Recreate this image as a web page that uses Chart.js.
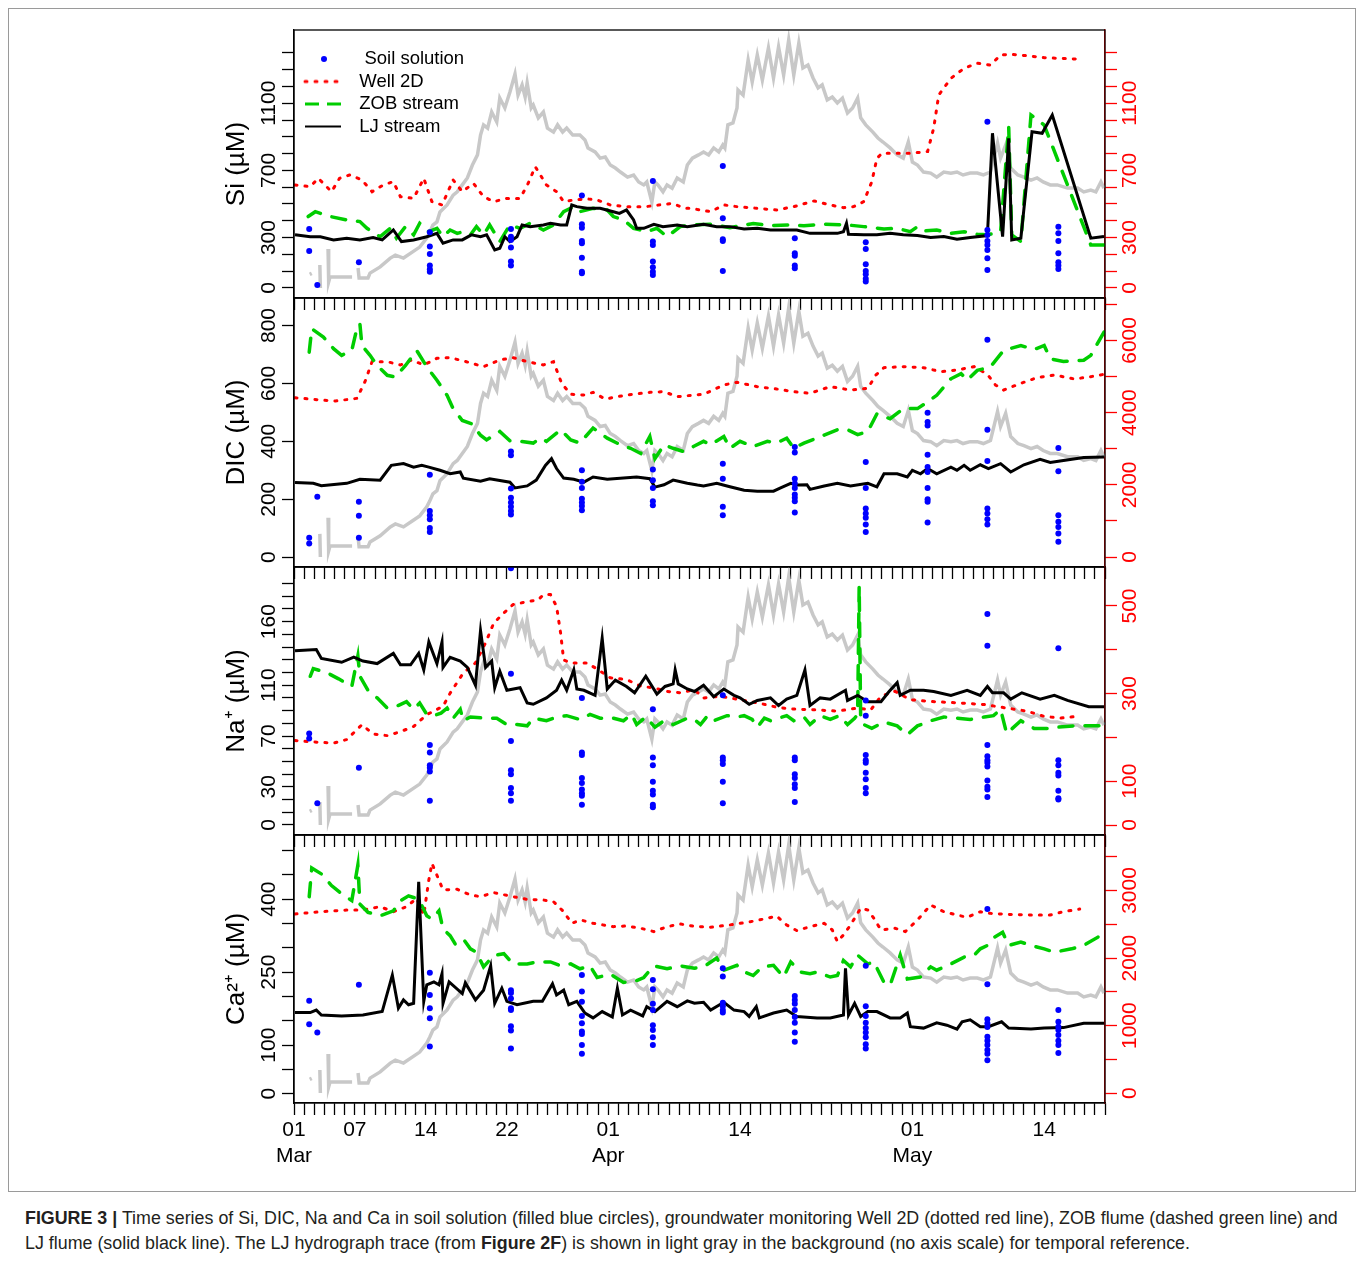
<!DOCTYPE html>
<html>
<head>
<meta charset="utf-8">
<script src="https://cdn.jsdelivr.net/npm/chart.js@4.4.1/dist/chart.umd.min.js"></script>
<style>
  body { margin: 0; background: #fff; width: 1358px; height: 1261px; position: relative; overflow: hidden; }
  #frame { position: absolute; left: 8px; top: 8px; width: 1346px; height: 1182px; border: 1px solid #9a9a9a; }
  canvas { position: absolute; left: 0; }
  #caption { position: absolute; left: 25px; top: 1206px; white-space: nowrap; color: #231f20;
             font-family: 'Liberation Sans Narrow', 'Liberation Sans', Arial, sans-serif; font-size: 17.85px; line-height: 25px; }
</style>
</head>
<body>
<div id="frame"></div>
<canvas id="c1" width="1358" height="302" style="top:10px"></canvas>
<canvas id="c2" width="1358" height="303" style="top:278px"></canvas>
<canvas id="c3" width="1358" height="302" style="top:547px"></canvas>
<canvas id="c4" width="1358" height="363" style="top:815px"></canvas>
<div id="caption"><b>FIGURE 3 |</b> Time series of Si, DIC, Na and Ca in soil solution (filled blue circles), groundwater monitoring Well 2D (dotted red line), ZOB flume (dashed green line) and<br>LJ flume (solid black line). The LJ hydrograph trace (from <b>Figure 2F</b>) is shown in light gray in the background (no axis scale) for temporal reference.</div>
<script>
// days counted from 01 Mar
const dayTicks = [0, 6, 13, 21, 31, 44, 61, 74]
const dayLabels = [['01', 'Mar'], '07', '14', '22', ['01', 'Apr'], '14', ['01', 'May'], '14']
const sampleDays = [1.5, 2.3, 6.4, 13.4, 21.4, 28.4, 35.4, 42.3, 49.4, 56.4, 62.5, 68.4, 75.4]

// LJ hydrograph, arbitrary units (no scale)
const hydro = [[1.55,8.8],[1.75,9.2],[1.8,null],[2.55,12.3],[2.6,3.7],[2.7,null],
  [3.36,18.3],[3.42,6.0],[3.55,7.8],[5.73,7.8],[5.9,null],
  [6.32,11.2],[6.42,7.5],[7.3,7.5],[7.5,9.3],[8.5,11.6],[9.5,14.9],[10.0,16.0],[10.8,14.9],[11.7,17.2],[12.4,19.0],
  [13.1,22.4],[13.4,24.6],[13.7,27.2],[14.1,28.4],[14.4,32.1],[15.1,34.7],[15.7,38.4],[16.1,39.6],[16.6,42.2],[17.1,44.8],
  [17.6,49.6],[18.1,53.4],[18.4,60.8],[18.7,64.6],[19.1,63.4],[19.5,69.4],[20.0,65.7],[20.3,74.6],[20.8,70.9],[21.3,76.9],
  [21.8,83.6],[22.1,75.7],[22.5,79.5],[22.8,75.0],[23.0,80.2],[23.4,70.9],[23.6,72.0],[24.1,67.2],[24.6,69.4],[25.0,63.4],
  [25.6,61.9],[26.0,64.6],[26.5,61.9],[26.9,63.4],[27.5,60.8],[28.2,60.8],[28.7,59.0],[29.0,56.0],[29.7,54.5],[30.2,52.2],
  [30.7,52.6],[31.2,49.6],[31.7,48.5],[32.2,47.0],[32.9,45.1],[33.5,45.9],[34.0,43.3],[34.5,42.2],[34.8,43.3],[35.3,35.8],
  [35.6,43.3],[35.9,42.2],[36.4,39.6],[36.8,42.2],[37.3,41.0],[37.8,44.8],[38.4,43.3],[38.8,49.6],[39.3,52.2],[39.9,53.4],
  [40.4,54.5],[40.9,53.4],[41.4,56.0],[41.9,54.5],[42.3,57.1],[42.5,56.0],[42.8,64.6],[43.3,65.3],[43.7,70.9],[43.8,77.6],
  [44.3,75.7],[44.8,88.8],[45.2,80.6],[45.7,90.7],[46.2,81.3],[46.8,93.3],[47.3,82.1],[47.8,93.7],[48.3,83.2],[48.8,96.3],
  [49.3,83.2],[49.8,95.1],[50.2,85.8],[50.7,86.9],[51.2,82.1],[51.7,78.4],[52.1,79.5],[52.6,73.9],[53.1,75.0],[53.6,72.8],
  [54.1,74.6],[54.6,69.0],[55.1,70.9],[55.6,74.6],[55.9,67.2],[56.4,64.6],[57.1,61.9],[57.6,59.7],[58.1,58.2],[58.8,56.0],
  [59.5,53.4],[60.1,52.2],[60.6,58.2],[61.0,50.7],[61.5,49.6],[62.1,47.0],[62.8,46.6],[63.4,45.1],[64.1,47.0],[64.8,46.6],
  [65.4,47.0],[66.0,45.9],[66.7,46.6],[67.4,46.6],[68.0,45.9],[68.7,47.0],[69.4,57.8],[69.7,52.2],[70.2,57.1],[70.7,48.5],
  [71.4,45.9],[72.0,45.1],[72.7,44.0],[73.3,44.8],[73.9,43.3],[74.6,42.2],[75.3,42.2],[76.3,41.0],[77.3,41.0],[77.9,39.6],
  [78.6,40.3],[79.1,39.6],[79.6,43.3],[79.9,41.0]]

// Si (uM)
const siLJ = [[0.1,316],[1.6,305],[2.6,305],[3.9,286],[5.2,296],[6.5,286],[7.8,300],[8.7,286],[9.8,345],[10.6,276],[11.8,286],
  [13.1,305],[14.1,325],[14.7,266],[15.7,286],[16.6,286],[17.5,316],[18.4,305],[19.0,316],[19.8,226],[20.3,236],[20.8,305],
  [21.3,276],[22.0,305],[22.5,375],[23.3,365],[24.6,375],[25.3,385],[26.3,375],[26.9,375],[27.4,494],[27.9,484],[28.9,474],
  [30.2,474],[31.5,454],[32.1,444],[32.8,464],[33.5,405],[33.8,355],[34.5,355],[35.5,379],[36.4,365],[37.8,375],[38.8,365],
  [40.4,379],[41.7,365],[43.0,365],[44.4,351],[45.7,355],[47.0,345],[48.3,345],[49.6,345],[50.9,325],[52.3,325],[53.6,325],
  [54.2,335],[54.5,385],[54.7,319],[56.2,316],[57.5,316],[58.8,325],[60.1,316],[61.5,312],[62.8,300],[64.1,306],[65.4,290],
  [66.7,300],[68.4,312],[68.9,921],[69.9,306],[70.5,891],[70.8,286],[71.7,296],[72.8,930],[73.8,921],[74.8,1030],[78.6,296],[79.9,306]]
const siWell = [[0.1,613],[1.6,603],[2.4,653],[3.7,573],[4.5,653],[5.5,673],[6.7,643],[7.7,573],[8.8,613],[9.8,633],[10.5,543],
  [11.8,533],[12.8,653],[13.6,514],[14.6,494],[15.7,643],[16.6,573],[17.7,623],[18.7,543],[19.7,514],[21.0,533],[22.3,533],
  [23.1,623],[23.8,722],[24.3,673],[24.9,613],[25.9,573],[26.6,514],[27.6,524],[28.9,530],[29.9,524],[31.2,494],[32.8,484],
  [34.7,484],[36.0,494],[37.3,503],[38.6,474],[39.1,474],[41.1,454],[42.4,494],[43.7,484],[45.7,474],[47.6,464],[49.3,484],
  [51.3,518],[52.9,494],[54.2,478],[55.2,484],[56.2,514],[57.0,633],[57.5,772],[58.0,802],[59.5,802],[60.8,802],[62.5,812],
  [63.1,951],[63.6,1149],[64.8,1248],[66.1,1308],[67.4,1338],[68.7,1327],[69.7,1387],[70.7,1391],[72.3,1383],[74.0,1371],
  [75.6,1367],[77.3,1363]]
const siZOB = [[1.4,425],[2.1,454],[3.6,425],[5.2,405],[6.5,395],[7.2,355],[8.5,305],[9.5,355],[10.1,296],[11.0,365],[11.8,316],
  [12.4,385],[13.3,335],[14.1,355],[14.7,305],[15.4,345],[16.1,325],[16.7,335],[17.4,316],[18.0,365],[18.7,316],[19.3,375],
  [20.3,276],[21.3,375],[22.3,355],[23.3,385],[24.6,345],[25.6,375],[26.6,454],[27.6,484],[28.2,454],[29.5,474],[30.9,464],
  [31.5,425],[32.5,405],[33.5,355],[34.8,335],[35.8,355],[36.8,305],[38.1,365],[39.1,375],[41.1,379],[43.0,359],[45.3,383],
  [47.0,371],[49.0,375],[50.3,371],[52.3,379],[54.6,375],[56.2,365],[58.2,351],[59.5,355],[60.8,335],[61.5,365],[62.1,339],
  [63.4,345],[64.8,325],[66.1,335],[67.4,319],[68.4,316],[69.7,335],[70.5,960],[70.8,316],[71.7,276],[72.7,1030],[74.0,970],
  [78.6,256],[79.9,256]]
const siSoil = [[351,220],[18],[153],[331,246,202,133,111,97],[351,305,286,240,157,133],[550,379,359,280,266,180,97,87],
  [637,276,256,157,123,97,77],[726,415,290,280,101],[296,206,192,133,117],[272,232,141,101,82,54,38],[],
  [990,345,315,280,256,226,177,107],[365,325,280,206,153,133,113]]

// DIC (uM), Well 2D on right axis
const dicLJ = [[0.1,258],[1.9,255],[2.7,247],[5.2,255],[6.5,269],[8.5,266],[9.6,317],[10.8,323],[11.8,311],[12.6,317],[13.3,311],
  [14.4,300],[15.4,288],[16.4,294],[16.7,273],[18.4,262],[19.3,271],[21.3,259],[21.8,239],[23.0,246],[23.9,266],[24.8,317],
  [25.4,340],[25.9,306],[26.6,273],[27.6,269],[28.6,259],[29.5,277],[30.9,269],[32.5,273],[33.8,277],[35.1,271],[35.6,242],
  [36.5,250],[37.4,266],[38.8,255],[39.8,249],[40.4,246],[41.7,255],[43.0,243],[44.4,231],[45.7,228],[47.3,228],[48.0,239],
  [49.0,255],[49.6,249],[50.6,250],[50.9,234],[52.3,246],[53.6,255],[54.9,246],[56.6,255],[57.5,243],[58.2,288],[59.5,288],
  [60.5,277],[61.0,300],[61.8,288],[62.5,306],[63.4,288],[64.8,311],[65.4,300],[66.1,317],[66.7,300],[67.7,319],[68.5,306],
  [69.7,323],[70.7,294],[72.0,319],[73.6,338],[74.6,327],[75.9,334],[77.9,344],[79.9,346]]
const dicWell = [[0.1,4413],[2.6,4349],[4.1,4321],[6.2,4395],[7.0,4857],[7.7,5410],[9.2,5410],[10.5,5319],[11.6,5457],[12.8,5319],
  [14.1,5504],[15.4,5523],[17.0,5410],[18.7,5272],[20.3,5457],[21.6,5523],[23.0,5410],[24.6,5319],[25.6,5410],[26.4,4811],
  [27.3,4507],[28.6,4487],[29.5,4561],[30.7,4377],[32.8,4487],[35.1,4561],[36.5,4580],[37.8,4441],[39.5,4487],[40.4,4507],
  [42.4,4765],[43.7,4839],[45.7,4719],[47.6,4654],[49.3,4580],[50.9,4534],[52.9,4719],[54.9,4626],[56.6,4672],[57.4,5042],
  [58.2,5245],[60.1,5272],[62.1,5245],[63.8,5134],[65.4,5180],[67.1,5272],[68.4,5060],[69.2,4765],[70.0,4626],[71.7,4811],
  [73.3,4968],[75.0,5042],[77.0,4931],[78.6,4996],[79.9,5060]]
const dicZOB = [[1.5,708],[1.75,789],[2.9,760],[3.9,720],[4.7,697],[5.7,714],[6.2,789],[6.5,806],[6.7,731],[7.5,697],[8.2,662],
  [9.2,628],[10.0,622],[11.0,662],[12.1,714],[13.1,657],[14.1,611],[15.1,559],[15.7,513],[16.6,472],[17.5,461],[18.4,421],
  [19.0,405],[20.3,434],[21.3,402],[22.3,400],[23.6,394],[24.3,411],[24.9,400],[26.3,440],[27.3,405],[28.2,394],[29.5,446],
  [30.9,411],[32.2,388],[33.2,376],[34.2,358],[35.1,417],[35.6,340],[36.5,388],[37.4,376],[38.4,365],[39.4,382],[40.4,400],
  [41.1,388],[42.4,417],[43.0,376],[44.0,400],[45.3,382],[46.7,400],[47.6,394],[48.6,411],[49.3,376],[50.3,394],[52.0,417],
  [53.6,440],[54.6,440],[55.6,423],[56.6,434],[57.5,495],[58.8,478],[60.1,513],[61.5,513],[62.5,536],[63.4,559],[64.8,616],
  [65.8,634],[66.4,611],[67.4,645],[68.7,657],[70.0,714],[71.7,731],[73.0,717],[74.0,731],[74.6,685],[75.9,676],[77.9,680],
  [78.6,697],[79.9,777]]
const dicSoil = [[67,47],[209],[191,143,67],[285,159,145,131,101,87],[365,352,237,205,189,174,159,147],[300,260,239,202,189,177,162],
  [303,266,239,193,179],[323,271,174,145],[380,361,271,254,239,216,205,193,154],[329,239,168,151,136,113,87],
  [499,467,455,354,311,294,239,200,191,120],[751,440,332,168,151,131,113],[377,297,145,122,104,82,53]]

// Na+ (uM), Well 2D on right axis
const naLJ = [[0.1,137],[2.2,138],[2.7,131],[4.7,128],[5.9,132],[6.8,129],[8.2,127],[9.8,135],[10.5,126],[11.5,126],[12.3,135],
  [12.8,122],[13.3,144],[14.1,127],[14.6,144],[14.7,124],[15.4,132],[16.4,129],[17.1,124],[17.9,110],[18.4,153],[18.9,124],
  [19.5,129],[19.8,108],[20.3,121],[21.0,106],[22.3,108],[23.0,96],[23.6,95],[24.9,100],[25.9,106],[26.4,114],[26.9,106],
  [27.6,122],[27.9,107],[28.6,106],[29.7,102],[30.4,147],[30.9,107],[31.7,114],[32.8,109],[33.6,104],[34.7,117],[35.8,103],
  [36.6,109],[37.4,111],[37.6,122],[37.9,111],[38.8,107],[39.5,105],[40.4,110],[41.4,101],[42.4,107],[43.4,102],[44.0,100],
  [44.9,95],[45.7,98],[47.0,100],[47.8,94],[48.6,99],[49.6,102],[50.4,122],[50.9,94],[51.9,100],[52.9,99],[54.4,106],[54.6,98],
  [55.6,102],[56.6,97],[57.9,97],[58.7,105],[59.5,112],[59.8,102],[60.8,106],[62.1,106],[63.1,105],[64.8,102],[66.4,106],
  [67.7,102],[68.4,109],[68.9,104],[70.0,104],[70.7,99],[71.8,104],[73.6,99],[75.0,102],[76.3,98],[78.4,93],[79.9,93]]
const naWell = [[0.1,193],[1.6,190],[3.9,187],[5.2,195],[6.7,229],[7.8,208],[9.2,204],[10.5,213],[11.8,225],[13.1,252],[14.7,271],
  [15.4,301],[16.7,347],[17.9,370],[18.9,416],[19.7,461],[20.7,484],[21.6,503],[23.0,510],[24.1,514],[24.6,526],[25.3,526],
  [25.9,499],[26.3,438],[26.6,377],[27.3,370],[28.9,370],[29.9,356],[31.2,336],[32.8,332],[34.2,317],[35.5,313],[36.8,305],
  [38.1,302],[39.5,309],[40.4,290],[42.0,294],[44.0,286],[45.7,279],[47.6,269],[49.0,265],[51.3,263],[53.6,260],[55.6,267],
  [56.9,263],[57.9,294],[59.3,305],[60.8,286],[62.8,282],[65.4,279],[68.1,275],[70.3,267],[72.3,260],[74.0,248],[75.6,244],[77.3,248]]
const naZOB = [[1.6,117],[1.9,123],[3.2,120],[4.4,115],[5.7,109],[6.3,133],[6.5,117],[7.3,106],[8.2,100],[9.2,92],[10.0,93],
  [11.1,97],[11.8,91],[12.4,96],[13.1,87],[13.8,86],[14.5,88],[15.1,92],[15.7,84],[16.4,91],[16.7,82],[17.4,85],[19.0,84],
  [20.0,84],[21.0,79],[22.0,79],[23.0,78],[23.6,84],[24.9,82],[25.9,85],[26.9,86],[28.2,83],[29.2,87],[30.2,84],[31.5,84],
  [32.5,82],[33.3,87],[33.8,79],[34.7,85],[35.6,77],[36.5,82],[37.4,79],[38.8,84],[39.5,83],[40.1,79],[40.8,86],[41.4,82],
  [42.7,86],[43.7,85],[44.4,86],[45.2,83],[45.7,77],[46.4,84],[47.0,82],[47.8,84],[48.6,86],[49.3,82],[50.3,85],[50.9,79],
  [51.9,86],[52.9,83],[53.8,86],[54.6,79],[55.3,84],[55.6,87],[55.75,188],[55.9,82],[56.2,79],[57.0,76],[58.2,81],[59.5,78],
  [60.5,71],[61.5,78],[62.8,82],[64.1,85],[65.4,84],[66.7,83],[68.1,85],[69.0,86],[69.7,91],[70.3,72],[71.7,82],[73.0,76],
  [74.4,76],[75.4,77],[77.0,78],[78.6,78],[79.9,78]]
const naSoil = [[72,68],[17],[45],[63,57,47,45,42,19],[202,119,66,43,40,29,25,19],[100,57,55,37,33,28,25,23,16],
  [91,53,47,34,27,24,16,14],[102,53,51,48,34,17],[53,51,40,37,32,29,18],[98,86,55,51,49,41,36,29,25],[],
  [166,141,63,54,51,49,46,35,30,28,22],[139,51,47,41,39,27,21,20]]

// Ca2+ (uM), Well 2D on right axis
const caLJ = [[0.1,167],[1.6,167],[2.2,172],[2.7,162],[4.7,160],[6.8,162],[8.7,169],[9.7,244],[10.3,176],[10.8,193],[11.3,183],
  [11.8,186],[12.3,436],[12.8,190],[13.1,224],[13.8,230],[14.3,224],[14.6,247],[14.7,186],[15.3,230],[16.6,206],[16.9,228],
  [17.9,193],[18.7,213],[19.4,263],[19.8,186],[20.5,217],[21.0,190],[22.0,183],[23.6,190],[24.5,190],[25.5,226],[25.9,203],
  [26.6,213],[27.1,183],[27.9,190],[28.7,166],[29.5,156],[30.4,169],[31.4,158],[31.9,217],[32.4,162],[33.2,172],[34.4,160],
  [34.8,179],[35.6,169],[36.8,190],[37.8,179],[38.8,191],[39.5,186],[40.4,188],[41.1,172],[42.4,188],[43.4,172],[44.4,169],
  [44.9,159],[45.6,179],[45.9,156],[47.3,166],[48.6,172],[49.6,159],[51.6,156],[52.9,156],[54.2,162],[54.4,258],[54.7,162],
  [55.3,186],[55.9,159],[56.6,169],[57.5,169],[58.8,156],[59.8,156],[60.5,166],[60.8,138],[62.1,135],[63.4,146],[64.4,141],
  [65.4,133],[65.9,148],[66.7,152],[67.7,138],[68.5,138],[69.8,148],[70.5,135],[72.7,133],[74.0,135],[75.9,136],[77.9,145],[79.9,145]]
const caWell = [[0.1,2652],[2.6,2686],[5.2,2711],[6.7,2711],[8.5,2760],[9.8,2686],[11.1,2760],[12.1,2884],[12.8,2637],[13.3,3155],
  [13.6,3402],[14.3,3155],[14.7,3008],[16.1,3018],[17.4,2934],[18.4,2909],[19.7,2968],[21.6,2909],[23.0,2869],[24.6,2859],
  [25.6,2835],[26.6,2686],[27.4,2515],[28.3,2564],[29.5,2515],[31.5,2465],[32.8,2475],[34.2,2441],[35.5,2392],[36.8,2465],
  [38.1,2505],[39.5,2470],[41.1,2456],[43.0,2490],[45.1,2540],[46.7,2589],[47.6,2623],[48.6,2490],[49.6,2406],[50.9,2465],
  [52.3,2515],[53.1,2416],[53.6,2243],[54.2,2342],[54.9,2490],[55.9,2737],[56.6,2711],[57.2,2589],[57.9,2416],[59.3,2441],
  [60.3,2392],[61.5,2564],[62.8,2786],[64.1,2686],[65.4,2637],[66.4,2603],[67.7,2686],[68.7,2662],[70.3,2647],[72.7,2637],
  [74.6,2637],[75.9,2686],[77.5,2725]]
const caZOB = [[1.5,405],[1.75,464],[2.7,452],[3.7,428],[4.7,411],[5.7,397],[6.3,470],[6.5,390],[7.3,373],[8.5,366],[9.8,376],
  [10.5,397],[11.3,407],[12.3,400],[13.1,366],[13.6,359],[14.3,376],[14.7,339],[15.4,325],[15.9,308],[16.7,318],[17.4,298],
  [18.0,291],[18.7,261],[19.7,284],[20.7,288],[21.6,267],[23.0,267],[24.0,271],[25.3,271],[26.3,263],[27.3,267],[28.2,257],
  [29.2,263],[29.9,239],[31.2,246],[32.5,229],[33.5,230],[34.5,239],[35.5,263],[36.8,257],[38.1,263],[39.5,258],[40.4,261],
  [41.7,279],[42.4,254],[43.7,264],[44.5,250],[45.3,243],[46.2,261],[47.3,264],[48.3,240],[49.0,271],[50.0,250],[50.9,247],
  [51.6,250],[52.9,240],[53.6,243],[54.2,274],[54.9,261],[55.6,285],[56.6,267],[57.2,271],[58.2,229],[58.8,223],[59.8,285],
  [60.5,236],[61.8,240],[62.8,261],[63.4,254],[64.8,267],[66.1,281],[67.1,285],[67.7,298],[68.4,305],[69.1,322],[69.9,332],
  [70.5,305],[71.7,312],[72.7,305],[74.0,298],[75.0,291],[76.7,298],[77.9,305],[79.3,322],[80.0,336]]
const caSoil = [[191,143],[126],[224],[249,203,176,155,97],[213,207,196,176,172,139,130,93],[244,210,189,160,145,128,123,100,82],
  [234,215,185,172,141,131,116,100],[258,241,187,180,172,167],[201,193,185,172,158,146,126,107],
  [263,180,160,146,135,126,116,102,93],[],[380,225,153,145,137,117,109,100,90,82,69],[172,148,138,131,121,109,100,84]]

// axis ticks and labels
const siTicks = [0,100,200,300,400,500,600,700,800,900,1000,1100,1200,1300,1400]
const siLabels = [0, 300, 700, 1100]
const dicTicks = [0, 200, 400, 600, 800]
const dicLabels = [0, 200, 400, 600, 800]
const dicWellTicks = [0, 1000, 2000, 3000, 4000, 5000, 6000, 7000]
const dicWellLabels = [0, 2000, 4000, 6000]
const naTicks = [0,10,20,30,40,50,60,70,80,90,100,110,120,130,140,150,160,170,180,190]
const naLabels = [0, 30, 70, 110, 160]
const naWellTicks = [0, 100, 200, 300, 400, 500]
const naWellLabels = [0, 100, 300, 500]
const caTicks = [0, 50, 100, 150, 200, 250, 300, 350, 400, 450, 500]
const caLabels = [0, 100, 250, 400]
const caWellTicks = [0, 500, 1000, 1500, 2000, 2500, 3000, 3500]
const caWellLabels = [0, 1000, 2000, 3000]

const SANS = "'Liberation Sans', Arial, sans-serif"
const NARROW = "'Liberation Sans Narrow', 'Liberation Sans', Arial, sans-serif"
const tickFont = {family: NARROW, size: 21}
const RED = '#ff0000', GREEN = '#00cd00', BLUE = '#0000ff', GRAY = '#c8c8c8'
const allDays = Array.from({length: 81}, (_, i) => i)

const mctx = document.createElement('canvas').getContext('2d')
function padFor(labels, gap) {
    mctx.font = tickFont.size + 'px ' + tickFont.family
    let w = 0
    labels.forEach(l => { w = Math.max(w, mctx.measureText(String(l)).width) })
    return gap - w / 2
}

function pts(arr) { return arr.map(p => ({x: p[0], y: p[1]})) }
function soilPts(vals) {
    const out = []
    vals.forEach((list, i) => list.forEach(v => out.push({x: sampleDays[i], y: v})))
    return out
}

function yAxis(pos, min, max, ticks, labels, color, title) {
    return {
        type: 'linear', position: pos, min: min, max: max,
        afterBuildTicks: s => { s.ticks = ticks.map(v => ({value: v})) },
        afterFit: s => { s.width = pos === 'left' ? 73 : 60 },
        grid: {drawOnChartArea: false, tickLength: 12, color: color, tickColor: color, tickWidth: 1.3},
        border: {display: true, color: color, width: 1.3},
        ticks: {autoSkip: false, minRotation: 90, maxRotation: 90, crossAlign: 'center',
            padding: padFor(labels, 13), color: color, font: tickFont,
            callback: v => labels.includes(v) ? String(v) : ''},
        title: title ? {display: true, text: title, color: '#000', font: {family: SANS, size: 26}, padding: 0} : {display: false}
    }
}

function xAxis(showLabels) {
    return {
        type: 'linear', min: 0, max: 80,
        afterBuildTicks: s => { s.ticks = allDays.map(v => ({value: v})) },
        afterFit: s => { s.height = showLabels ? 75 : 14 },
        grid: {drawOnChartArea: false, tickLength: 12, color: '#000', tickColor: '#000', tickWidth: 1.3},
        border: {display: true, color: '#000', width: 1.3},
        ticks: {display: showLabels, autoSkip: false, minRotation: 0, maxRotation: 0, color: '#000', font: tickFont, padding: 3,
            callback: v => { const i = dayTicks.indexOf(v); return i < 0 ? '' : dayLabels[i] }}
    }
}

const boxPlugin = {
    id: 'box',
    afterDraw(chart) {
        const {ctx, chartArea: a} = chart
        ctx.save()
        ctx.strokeStyle = '#000'
        ctx.lineWidth = 1.3
        ctx.strokeRect(a.left, a.top, a.right - a.left, a.bottom - a.top)
        ctx.restore()
    }
}

// legend icons
function icon(draw) {
    const c = document.createElement('canvas')
    c.width = 52; c.height = 10
    draw(c.getContext('2d'))
    return c
}
const dotIcon = icon(g => { g.fillStyle = BLUE; g.beginPath(); g.arc(26, 5, 3, 0, 2 * Math.PI); g.fill() })
function lineIcon(color, dash, w, cap) {
    return icon(g => {
        g.strokeStyle = color; g.lineWidth = w; g.setLineDash(dash); g.lineCap = cap
        g.beginPath(); g.moveTo(7, 5); g.lineTo(43, 5); g.stroke()
    })
}

const legendOpts = {
    position: 'chartArea', align: 'start',
    title: {display: true, text: '', font: {size: 10, lineHeight: 3.575}, padding: 0},
    labels: {
        usePointStyle: true, pointStyleWidth: 52, boxHeight: 5, padding: 4, color: '#000',
        font: {family: SANS, size: 18.5},
        generateLabels: () => [
            {text: ' Soil solution', pointStyle: dotIcon, lineWidth: 0, fontColor: '#000', datasetIndex: 0},
            {text: 'Well 2D', pointStyle: lineIcon(RED, [2, 8], 3, 'round'), lineWidth: 0, fontColor: '#000', datasetIndex: 3},
            {text: 'ZOB stream', pointStyle: lineIcon(GREEN, [14, 8], 3, 'butt'), lineWidth: 0, fontColor: '#000', datasetIndex: 2},
            {text: 'LJ stream', pointStyle: lineIcon('#000', [], 2, 'butt'), lineWidth: 0, fontColor: '#000', datasetIndex: 1}
        ]
    }
}

function makePanel(id, p) {
    new Chart(document.getElementById(id), {
        type: 'line',
        data: {
            datasets: [
                {label: 'Soil solution', data: soilPts(p.soil), yAxisID: 'y', showLine: false,
                    pointRadius: 3, pointBackgroundColor: BLUE, pointBorderWidth: 0},
                {label: 'LJ stream', data: pts(p.lj), yAxisID: 'y', borderColor: '#000', borderWidth: 3, pointRadius: 0},
                {label: 'ZOB stream', data: pts(p.zob), yAxisID: 'y', borderColor: GREEN, borderWidth: 3.5,
                    borderDash: [14, 12], borderCapStyle: 'round', pointRadius: 0},
                {label: 'Well 2D', data: pts(p.well), yAxisID: 'y2', borderColor: RED, borderWidth: 3,
                    borderDash: [2, 8], borderCapStyle: 'round', pointRadius: 0},
                {label: 'LJ hydrograph', data: pts(hydro), yAxisID: 'yh', borderColor: GRAY, borderWidth: 3.5,
                    pointRadius: 0, spanGaps: false}
            ]
        },
        options: {
            responsive: false, animation: false, events: [],
            layout: {padding: {top: 20, left: 221, right: 193, bottom: 0}},
            elements: {line: {tension: 0, fill: false}},
            scales: {
                x: xAxis(p.showX),
                y: yAxis('left', p.yMin, p.yMax, p.yTicks, p.yLabels, '#000', p.title),
                y2: yAxis('right', p.y2Min, p.y2Max, p.y2Ticks, p.y2Labels, RED, null),
                yh: {display: false, min: 0, max: 100}
            },
            plugins: {
                legend: p.legend ? legendOpts : {display: false},
                tooltip: {enabled: false}
            }
        },
        plugins: [boxPlugin]
    })
}

makePanel('c1', {soil: siSoil, lj: siLJ, zob: siZOB, well: siWell, showX: false, legend: true, title: 'Si (\u00b5M)',
    yMin: -60, yMax: 1536, yTicks: siTicks, yLabels: siLabels, y2Min: -60, y2Max: 1536, y2Ticks: siTicks, y2Labels: siLabels})
makePanel('c2', {soil: dicSoil, lj: dicLJ, zob: dicZOB, well: dicWell, showX: false, title: 'DIC (\u00b5M)',
    yMin: -34, yMax: 895, yTicks: dicTicks, yLabels: dicLabels, y2Min: -277, y2Max: 7175, y2Ticks: dicWellTicks, y2Labels: dicWellLabels})
makePanel('c3', {soil: naSoil, lj: naLJ, zob: naZOB, well: naWell, showX: false, title: 'Na\u207a (\u00b5M)',
    yMin: -7.9, yMax: 203, yTicks: naTicks, yLabels: naLabels, y2Min: -22.8, y2Max: 589, y2Ticks: naWellTicks, y2Labels: naWellLabels})
makePanel('c4', {soil: caSoil, lj: caLJ, zob: caZOB, well: caWell, showX: true, title: 'Ca\u00b2\u207a (\u00b5M)',
    yMin: -19, yMax: 532, yTicks: caTicks, yLabels: caLabels, y2Min: -144, y2Max: 3821, y2Ticks: caWellTicks, y2Labels: caWellLabels})
</script>
</body>
</html>
